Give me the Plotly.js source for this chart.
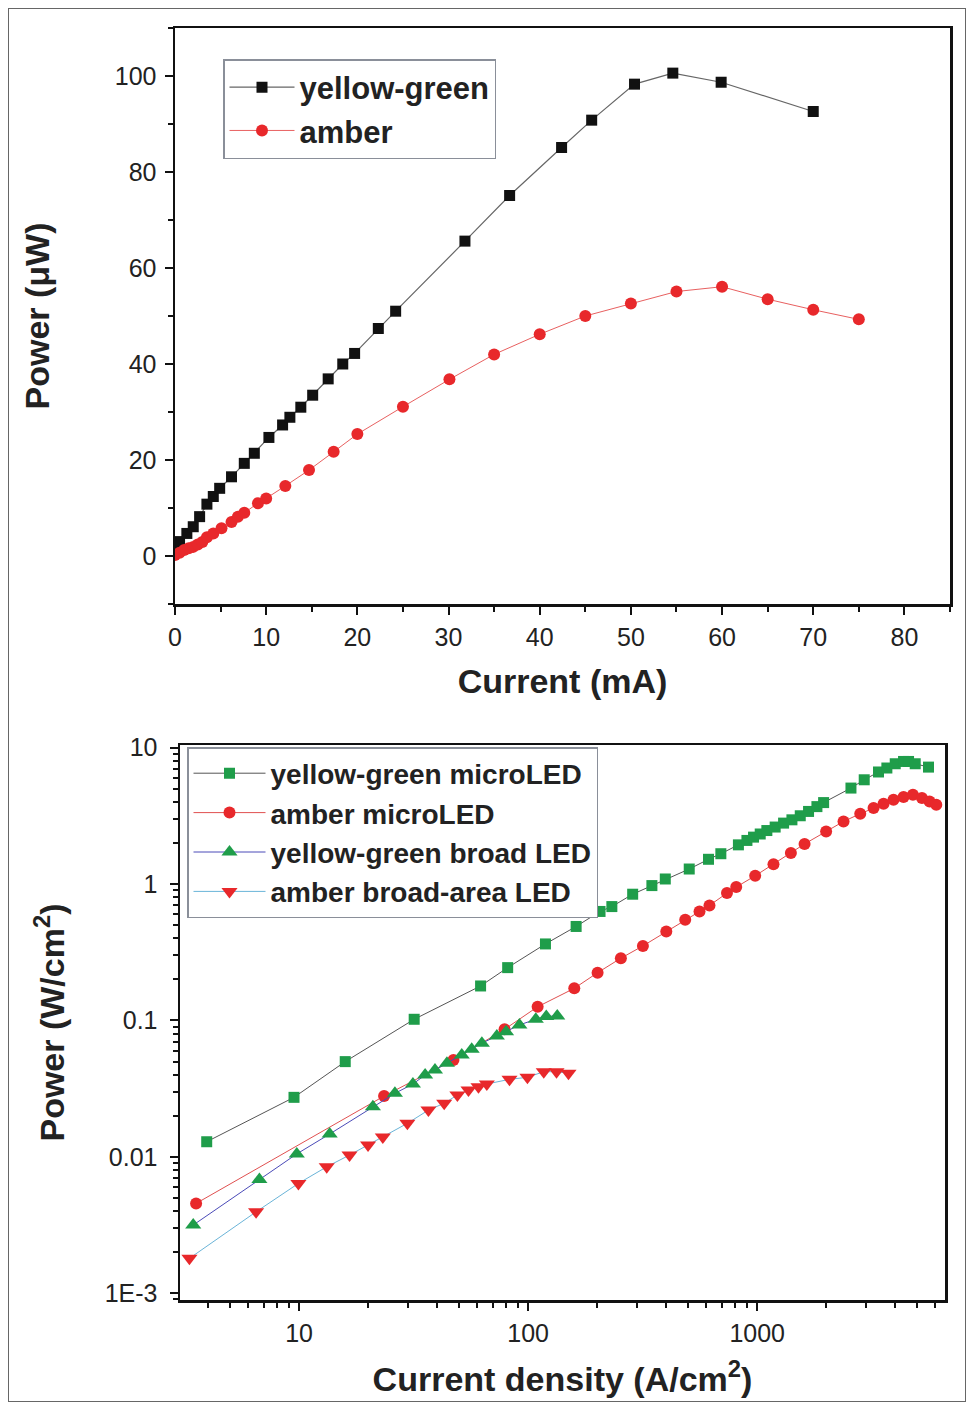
<!DOCTYPE html>
<html><head><meta charset="utf-8">
<script src="https://cdn.plot.ly/plotly-3.0.1.min.js"></script>
<style>
html,body{margin:0;padding:0;background:#fff;}
#chart{width:970px;height:1407px;}
#frame{position:absolute;left:8px;top:8px;width:956px;height:1392px;border:1.5px solid #666;pointer-events:none;}
</style>
</head><body><div id="chart"></div><div id="frame"></div>
<script>
// ---- Top panel: Power (µW) vs Current (mA)
const ygCurrent = [0, 0.5, 1.3, 2.0, 2.7, 3.5, 4.2, 4.9, 6.2, 7.6, 8.7, 10.3, 11.8, 12.6, 13.8, 15.1, 16.8, 18.4, 19.7, 22.3, 24.2, 31.8, 36.7, 42.4, 45.7, 50.4, 54.6, 59.9, 70.0];
const ygPower   = [1.5, 3.0, 4.7, 6.1, 8.2, 10.8, 12.4, 14.1, 16.5, 19.3, 21.4, 24.7, 27.3, 28.9, 31.0, 33.5, 36.9, 40.0, 42.2, 47.4, 51.0, 65.6, 75.1, 85.1, 90.8, 98.3, 100.6, 98.7, 92.6];
const amCurrent = [0, 0.5, 1, 1.5, 2, 2.5, 3, 3.5, 4.2, 5.1, 6.2, 6.9, 7.6, 9.1, 10.0, 12.1, 14.7, 17.4, 20.0, 25.0, 30.1, 35.0, 40.0, 45.0, 50.0, 55.0, 60.0, 65.0, 70.0, 75.0];
const amPower   = [0.2, 0.7, 1.25, 1.6, 1.9, 2.4, 2.9, 3.9, 4.7, 5.8, 7.1, 8.2, 9.0, 11.0, 12.0, 14.6, 17.9, 21.7, 25.4, 31.1, 36.8, 42.0, 46.2, 50.0, 52.6, 55.1, 56.1, 53.5, 51.3, 49.3];

// ---- Bottom panel: Power density (W/cm2) vs Current density (A/cm2)
const ygMicroJ = [3.95, 9.5, 15.9, 31.8, 62, 81.4, 119, 162, 206, 232, 286, 347, 397, 505, 613, 694, 828, 902, 964, 1031, 1102, 1198, 1304, 1418, 1542, 1676, 1823, 1950, 2567, 2933, 3386, 3683, 4006, 4355, 4580, 4897, 5598];
const ygMicroP = [0.0129, 0.0273, 0.0499, 0.102, 0.179, 0.244, 0.364, 0.489, 0.63, 0.684, 0.843, 0.975, 1.09, 1.29, 1.52, 1.67, 1.94, 2.09, 2.21, 2.33, 2.47, 2.62, 2.80, 2.96, 3.17, 3.41, 3.70, 3.96, 5.06, 5.82, 6.64, 7.10, 7.63, 7.93, 7.93, 7.63, 7.21];
const amMicroJ = [3.55, 23.5, 47.2, 78.9, 110, 159, 201, 254, 317, 401, 485, 560, 619, 738, 810, 980, 1178, 1403, 1610, 2000, 2382, 2818, 3222, 3563, 3937, 4355, 4786, 5240, 5659, 6053];
const amMicroP = [0.00455, 0.0279, 0.0513, 0.0861, 0.126, 0.172, 0.224, 0.286, 0.352, 0.449, 0.547, 0.630, 0.697, 0.859, 0.951, 1.15, 1.40, 1.69, 1.97, 2.43, 2.88, 3.28, 3.61, 3.88, 4.15, 4.35, 4.52, 4.28, 4.04, 3.82];
const ygBroadJ = [3.45, 6.71, 9.77, 13.6, 21.0, 26.2, 31.4, 35.5, 39.2, 44.2, 51.3, 56.7, 62.8, 73, 80.1, 91.6, 108, 120, 134];
const ygBroadP = [0.00316, 0.00683, 0.0105, 0.0147, 0.0233, 0.0292, 0.0342, 0.0398, 0.0433, 0.0486, 0.0558, 0.0615, 0.0681, 0.0769, 0.0828, 0.0927, 0.102, 0.107, 0.108];
const amBroadJ = [3.32, 6.49, 9.93, 13.2, 16.6, 20.0, 23.2, 29.7, 36.7, 43.0, 49.1, 54.9, 60.7, 66, 82.9, 99.3, 117, 133, 150];
const amBroadP = [0.0018, 0.00395, 0.00638, 0.00845, 0.0103, 0.0122, 0.0140, 0.0176, 0.0220, 0.0247, 0.0284, 0.0309, 0.0327, 0.0342, 0.0370, 0.0383, 0.0421, 0.0421, 0.0410];

const logYTickVals = [0.001, 0.01, 0.1, 1, 10];
const logYTickText = ['1E-3', '0.01', '0.1', '1', '10'];
const logXTickVals = [10, 100, 1000];
const logXTickText = ['10', '100', '1000'];

const FONT = 'Liberation Sans, Arial, sans-serif';
const GREEN = '#1f9d4a', RED = '#e8282b';

const traces = [
  {x: ygCurrent, y: ygPower, name: 'yellow-green', mode: 'lines+markers', xaxis: 'x', yaxis: 'y', legend: 'legend',
   line: {color: '#666', width: 1.2}, marker: {symbol: 'square', size: 11, color: '#111'}},
  {x: amCurrent, y: amPower, name: 'amber', mode: 'lines+markers', xaxis: 'x', yaxis: 'y', legend: 'legend',
   line: {color: '#e86060', width: 1}, marker: {symbol: 'circle', size: 12, color: RED}},
  {x: ygMicroJ, y: ygMicroP, name: 'yellow-green microLED', mode: 'lines+markers', xaxis: 'x2', yaxis: 'y2', legend: 'legend2',
   line: {color: '#555', width: 1}, marker: {symbol: 'square', size: 11, color: GREEN}},
  {x: amMicroJ, y: amMicroP, name: 'amber microLED', mode: 'lines+markers', xaxis: 'x2', yaxis: 'y2', legend: 'legend2',
   line: {color: '#e05050', width: 1}, marker: {symbol: 'circle', size: 12, color: RED}},
  {x: ygBroadJ, y: ygBroadP, name: 'yellow-green broad LED', mode: 'lines+markers', xaxis: 'x2', yaxis: 'y2', legend: 'legend2',
   line: {color: '#4a4ab8', width: 1}, marker: {symbol: 'triangle-up', size: 14, color: GREEN}},
  {x: amBroadJ, y: amBroadP, name: 'amber broad-area LED', mode: 'lines+markers', xaxis: 'x2', yaxis: 'y2', legend: 'legend2',
   line: {color: '#6ab4d8', width: 1}, marker: {symbol: 'triangle-down', size: 14, color: RED}}
];

const axBase = {showline: true, linecolor: '#111', linewidth: 2.5, mirror: true, showgrid: false, zeroline: false,
  ticks: 'outside', ticklen: 8, tickwidth: 2, tickcolor: '#111',
  tickfont: {family: FONT, size: 25, color: '#222'}};
const titleFont = {family: FONT, size: 34, color: '#222', weight: 700};
const minorBase = {ticks: 'outside', ticklen: 5, tickwidth: 2, tickcolor: '#111', showgrid: false};

const layout = {
  width: 970, height: 1407, margin: {l: 0, r: 0, t: 0, b: 0},
  paper_bgcolor: '#fff', plot_bgcolor: '#fff', font: {family: FONT},
  xaxis: Object.assign({}, axBase, {domain: [175/970, 950/970], anchor: 'y', range: [0, 85], dtick: 10, tick0: 0,
    ticklabelstandoff: 1,
    minor: Object.assign({dtick: 5}, minorBase),
    title: {text: 'Current (mA)', font: titleFont, standoff: 20}}),
  yaxis: Object.assign({}, axBase, {domain: [803/1407, 1379/1407], anchor: 'x', range: [-10, 110], dtick: 20, tick0: 0,
    ticklabelstandoff: 3,
    minor: Object.assign({dtick: 10}, minorBase),
    title: {text: 'Power (\u03bcW)', font: titleFont, standoff: 55}}),
  xaxis2: Object.assign({}, axBase, {domain: [180/970, 945/970], anchor: 'y2', type: 'log', range: [0.48, 3.82],
    tickvals: logXTickVals, ticktext: logXTickText, ticklabelstandoff: 1,
    minor: Object.assign({dtick: 'D1'}, minorBase),
    title: {text: 'Current density (A/cm<sup>2</sup>)', font: titleFont, standoff: 22}}),
  yaxis2: Object.assign({}, axBase, {domain: [107/1407, 662/1407], anchor: 'x2', type: 'log', range: [-3.05, 1.02],
    tickvals: logYTickVals, ticktext: logYTickText, ticklabelstandoff: 7,
    minor: Object.assign({dtick: 'D1'}, minorBase),
    title: {text: 'Power (W/cm<sup>2</sup>)', font: titleFont, standoff: 30}}),
  legend: {x: 223/970, y: 1 - 59/1407, xanchor: 'left', yanchor: 'top', bgcolor: '#fff', bordercolor: '#8a8f99', borderwidth: 1.5,
    font: {family: FONT, size: 31, color: '#222', weight: 700}, itemwidth: 65, tracegroupgap: 0},
  legend2: {x: 187/970, y: 1 - 747/1407, xanchor: 'left', yanchor: 'top', bgcolor: '#fff', bordercolor: '#8a8f99', borderwidth: 1.5,
    font: {family: FONT, size: 28, color: '#222', weight: 700}, itemwidth: 72, tracegroupgap: 0},
  showlegend: true
};

Plotly.newPlot('chart', traces, layout, {displayModeBar: false, staticPlot: true});
</script></body></html>
